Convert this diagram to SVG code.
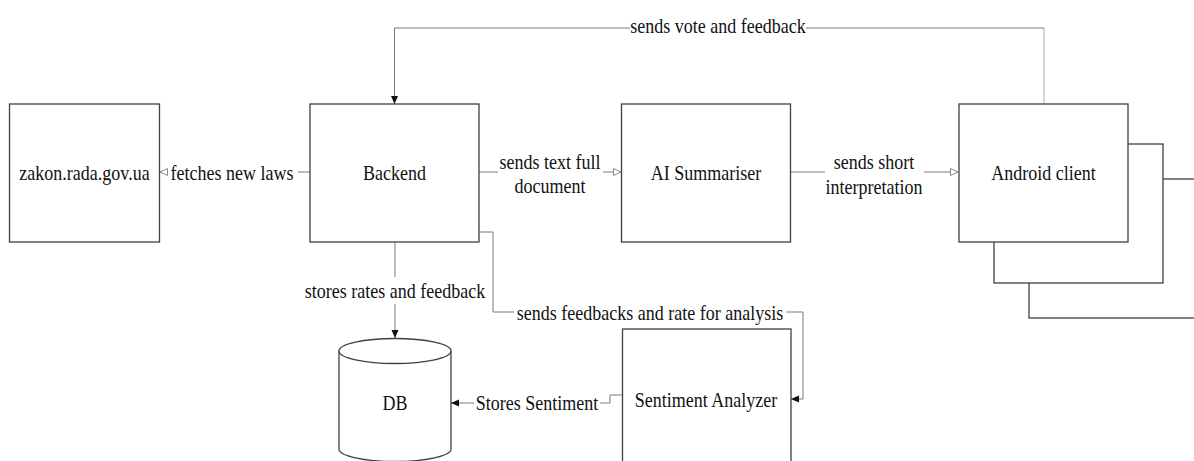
<svg xmlns="http://www.w3.org/2000/svg" width="1194" height="461" viewBox="0 0 1194 461">
  <style>
    .box { fill: #fff; stroke: #404040; stroke-width: 1.3; }
    .ln { fill: none; stroke: #7a7a7a; stroke-width: 1; }
    .ln.light { stroke: #b0b0b0; }
    text { font-family: "Liberation Serif", "Times New Roman", serif; font-size: 18px; fill: #111;
           text-anchor: middle; dominant-baseline: central;
           transform-box: fill-box; transform-origin: center; transform: scaleY(1.12); }
  </style>
  <defs>
    <marker id="arrowFilled" markerWidth="10" markerHeight="9" refX="8" refY="4" orient="auto" markerUnits="userSpaceOnUse">
      <path d="M0,0.5 L8,4 L0,7.5 z" fill="#111"/>
    </marker>
    <marker id="arrowOpen" markerWidth="10" markerHeight="9" refX="8" refY="4" orient="auto" markerUnits="userSpaceOnUse">
      <path d="M0.5,0.5 L8,4 L0.5,7.5 z" fill="#fff" stroke="#8a8a8a" stroke-width="1"/>
    </marker>
  </defs>

  <!-- connectors -->
  <g id="connectors">
    <!-- Backend -> zakon.rada.gov.ua -->
    <path class="ln" d="M310,172 H298"/>
    <path class="ln" d="M167,172 H160" marker-end="url(#arrowOpen)"/>
    <text x="232" y="173">fetches new laws</text>

    <!-- Backend -> AI Summariser -->
    <path class="ln" d="M479,172 H498"/>
    <path class="ln" d="M603,172 H621" marker-end="url(#arrowOpen)"/>
    <text x="550" y="162">sends text full</text>
    <text x="550" y="186">document</text>

    <!-- AI Summariser -> Android client -->
    <path class="ln" d="M791,172 H825"/>
    <path class="ln" d="M924,172 H958" marker-end="url(#arrowOpen)"/>
    <text x="874" y="162">sends short</text>
    <text x="874" y="187">interpretation</text>

    <!-- Android client -> Backend -->
    <path class="ln light" d="M1044,104 V28"/>
    <path class="ln" d="M1044,28 H806"/>
    <path class="ln" d="M630,28 H394.5 V104" marker-end="url(#arrowFilled)"/>
    <text x="718" y="26">sends vote and feedback</text>

    <!-- Backend -> DB -->
    <path class="ln" d="M395,242 V277"/>
    <path class="ln" d="M395,304 V338" marker-end="url(#arrowFilled)"/>
    <text x="395" y="291">stores rates and feedback</text>

    <!-- Backend -> Sentiment Analyzer -->
    <path class="ln" d="M479,232 H493 V312 H514"/>
    <path class="ln" d="M786,312 H803 V399 H791" marker-end="url(#arrowFilled)"/>
    <text x="650" y="313">sends feedbacks and rate for analysis</text>

    <!-- Sentiment Analyzer -> DB -->
    <path class="ln" d="M622,395 H610 V403 H600"/>
    <path class="ln" d="M474,403 H451" marker-end="url(#arrowFilled)"/>
    <text x="537" y="403">Stores Sentiment</text>
  </g>

  <g id="zakon">
    <rect class="box" x="9.5" y="104" width="150" height="138"/>
    <text x="84.5" y="173">zakon.rada.gov.ua</text>
  </g>

  <g id="backend">
    <rect class="box" x="310" y="104" width="169" height="138"/>
    <text x="394.5" y="173">Backend</text>
  </g>

  <g id="ai-summariser">
    <rect class="box" x="621.5" y="104" width="169" height="138"/>
    <text x="706" y="173">AI Summariser</text>
  </g>

  <g id="android-client">
    <rect class="box" x="1029" y="179" width="169" height="139"/>
    <rect class="box" x="994" y="144" width="169" height="139"/>
    <rect class="box" x="959" y="104" width="169" height="138"/>
    <text x="1043.5" y="173">Android client</text>
  </g>

  <g id="db">
    <path class="box" d="M339,351 V449 A56,12.5 0 0 0 451,449 V351"/>
    <ellipse class="box" cx="395" cy="351" rx="56" ry="12.5"/>
    <text x="395" y="403">DB</text>
  </g>

  <g id="sentiment-analyzer">
    <rect class="box" x="622.5" y="329" width="168.5" height="138"/>
    <text x="706" y="400">Sentiment Analyzer</text>
  </g>
</svg>
